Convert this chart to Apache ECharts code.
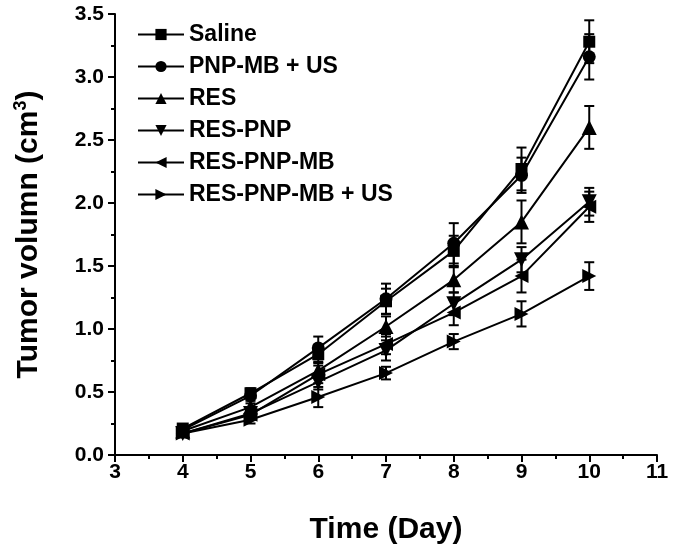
<!DOCTYPE html>
<html><head><meta charset="utf-8">
<script src="https://cdn.jsdelivr.net/npm/echarts@6/dist/echarts.min.js"></script>
<style>html,body{margin:0;padding:0;background:#fff}#c{width:675px;height:551px}</style>
</head><body><div id="c"></div>
<script>
const days = [4, 5, 6, 7, 8, 9, 10];
const seriesNames = ['Saline', 'PNP-MB + US', 'RES', 'RES-PNP', 'RES-PNP-MB', 'RES-PNP-MB + US'];
const saline      = [0.21, 0.49, 0.80, 1.22, 1.62, 2.27, 3.28];
const pnpMbUs     = [0.20, 0.47, 0.85, 1.24, 1.68, 2.22, 3.16];
const res         = [0.19, 0.38, 0.67, 1.02, 1.39, 1.85, 2.60];
const resPnp      = [0.17, 0.33, 0.58, 0.83, 1.20, 1.55, 2.01];
const resPnpMb    = [0.17, 0.32, 0.64, 0.88, 1.13, 1.42, 1.97];
const resPnpMbUs  = [0.17, 0.28, 0.46, 0.65, 0.90, 1.12, 1.42];
const salineErr     = [0.02, 0.04, 0.06, 0.10, 0.12, 0.17, 0.17];
const pnpMbUsErr    = [0.02, 0.04, 0.09, 0.12, 0.16, 0.14, 0.18];
const resErr        = [0.02, 0.03, 0.06, 0.08, 0.10, 0.17, 0.17];
const resPnpErr     = [0.02, 0.05, 0.06, 0.08, 0.09, 0.10, 0.11];
const resPnpMbErr   = [0.02, 0.04, 0.07, 0.08, 0.10, 0.13, 0.12];
const resPnpMbUsErr = [0.02, 0.03, 0.08, 0.05, 0.06, 0.10, 0.11];
const yTicks = ['0.0','0.5','1.0','1.5','2.0','2.5','3.0','3.5'];

const values = [saline, pnpMbUs, res, resPnp, resPnpMb, resPnpMbUs];
const errs = [salineErr, pnpMbUsErr, resErr, resPnpErr, resPnpMbErr, resPnpMbUsErr];
const symbols = ['rect', 'circle', 'triangle',
  'path://M0,0L10,0L5,9Z', 'path://M9,0L9,10L0,5Z', 'path://M0,0L9,5L0,10Z'];
const sizes = [12, 13, 15, 15, 14, 14];
const FONT = '"Liberation Sans", Arial, sans-serif';

const series = [];
values.forEach((v, i) => {
  series.push({
    name: seriesNames[i], type: 'line', data: days.map((d, j) => [d, v[j]]),
    symbol: symbols[i], symbolSize: sizes[i], showSymbol: true,
    lineStyle: { color: '#000', width: 2 }, itemStyle: { color: '#000' },
    z: 3, animation: false
  });
  series.push({
    name: seriesNames[i] + '_err', type: 'custom',
    data: days.map((d, j) => [d, v[j] - errs[i][j], v[j] + errs[i][j]]),
    renderItem: function (params, api) {
      const x = api.value(0);
      const lo = api.coord([x, api.value(1)]);
      const hi = api.coord([x, api.value(2)]);
      const w = 5;
      const st = { stroke: '#000', lineWidth: 2 };
      return { type: 'group', children: [
        { type: 'line', shape: { x1: lo[0], y1: lo[1], x2: hi[0], y2: hi[1] }, style: st },
        { type: 'line', shape: { x1: lo[0] - w, y1: lo[1], x2: lo[0] + w, y2: lo[1] }, style: st },
        { type: 'line', shape: { x1: hi[0] - w, y1: hi[1], x2: hi[0] + w, y2: hi[1] }, style: st }
      ]};
    },
    z: 2, animation: false
  });
});

const chart = echarts.init(document.getElementById('c'));
chart.setOption({
  backgroundColor: '#fff',
  animation: false,
  grid: { left: 115, right: 18, top: 14, bottom: 96, containLabel: false },
  legend: {
    data: seriesNames, orient: 'vertical', left: 132, top: 18,
    itemWidth: 46, itemHeight: 14, itemGap: 9,
    textStyle: { fontFamily: FONT, fontWeight: 'bold', fontSize: 23, color: '#000' }
  },
  xAxis: {
    type: 'value', min: 3, max: 11, interval: 1,
    name: 'Time (Day)', nameLocation: 'middle', nameGap: 60,
    nameTextStyle: { fontFamily: FONT, fontWeight: 'bold', fontSize: 30, color: '#000' },
    axisLine: { lineStyle: { color: '#000', width: 2 } },
    axisTick: { inside: false, length: 7, lineStyle: { color: '#000', width: 2 } },
    minorTick: { show: true, splitNumber: 2, length: 4, lineStyle: { color: '#000', width: 2 } },
    axisLabel: { fontFamily: FONT, fontWeight: 'bold', fontSize: 21, color: '#000', margin: 7 },
    splitLine: { show: false }
  },
  yAxis: {
    type: 'value', min: 0, max: 3.5, interval: 0.5,
    name: 'Tumor volumn (cm{sup|3})', nameLocation: 'middle', nameGap: 69,
    nameTextStyle: { fontFamily: FONT, fontWeight: 'bold', fontSize: 30, color: '#000',
      rich: { sup: { fontFamily: FONT, fontWeight: 'bold', fontSize: 18, color: '#000', verticalAlign: 'top', padding: [0, 0, 16, 0] } } },
    axisLine: { show: true, lineStyle: { color: '#000', width: 2 } },
    axisTick: { show: true, inside: false, length: 7, lineStyle: { color: '#000', width: 2 } },
    minorTick: { show: true, splitNumber: 2, length: 4, lineStyle: { color: '#000', width: 2 } },
    axisLabel: { fontFamily: FONT, fontWeight: 'bold', fontSize: 21, color: '#000', margin: 11,
      formatter: function (v) { return yTicks[Math.round(v / 0.5)]; } },
    splitLine: { show: false }
  },
  series: series
});
</script></body></html>
